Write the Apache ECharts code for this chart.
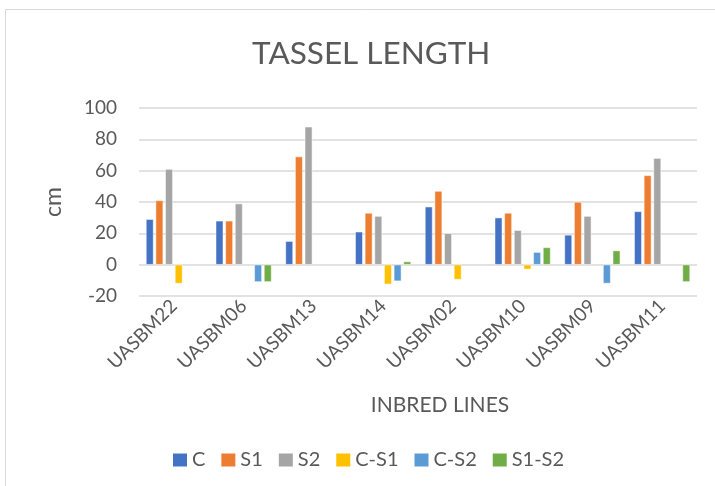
<!DOCTYPE html>
<html>
<head>
<meta charset="utf-8">
<script src="https://cdn.jsdelivr.net/npm/echarts@6/dist/echarts.min.js"></script>
<style>
  html, body { margin: 0; padding: 0; background: #fff; }
  #chart { width: 715px; height: 486px; }
</style>
</head>
<body>
<div id="chart"></div>
<script>
// Inbred lines and tassel length measurements (cm)
const lines = ['UASBM22', 'UASBM06', 'UASBM13', 'UASBM14', 'UASBM02', 'UASBM10', 'UASBM09', 'UASBM11'];
const seriesNames = ['C', 'S1', 'S2', 'C-S1', 'C-S2', 'S1-S2'];
const valC    = [29, 28, 15, 21, 37, 30, 19, 34];
const valS1   = [41, 28, 69, 33, 47, 33, 40, 57];
const valS2   = [61, 39, 88, 31, 20, 22, 31, 68];
const valCS1  = [-12, null, null, -12.5, -9.5, -3, null, null];
const valCS2  = [null, -11, null, -10.5, null, 8, -12, null];
const valS1S2 = [null, -11, null, 2, null, 11, 9, -11];
const yTicks = { min: -20, max: 100, step: 20 };

const colors = ['#4472C4', '#ED7D31', '#A5A5A5', '#FFC000', '#5B9BD5', '#70AD47'];
const allValues = [valC, valS1, valS2, valCS1, valCS2, valS1S2];
const textColor = '#595959';
const fontFamily = 'Lato, "Open Sans", sans-serif';

const chart = echarts.init(document.getElementById('chart'));
chart.setOption({
  animation: false,
  textStyle: { fontFamily: fontFamily },
  graphic: [
    {
      type: 'rect',
      shape: { x: 5.5, y: 9.5, width: 720, height: 490 },
      style: { fill: 'none', stroke: '#d9d9d9', lineWidth: 1 },
      silent: true
    },
    {
      // horizontal axis title
      type: 'text',
      x: 440,
      y: 405,
      style: {
        text: 'INBRED LINES',
        fontFamily: fontFamily,
        fontSize: 21,
        fill: textColor,
        align: 'center',
        verticalAlign: 'middle'
      },
      silent: true
    }
  ],
  title: {
    text: 'TASSEL LENGTH',
    left: 247,
    top: 33,
    textStyle: { fontFamily: fontFamily, fontSize: 31.5, fontWeight: 'normal', color: textColor }
  },
  legend: {
    top: 445,
    left: 168,
    itemWidth: 14,
    itemHeight: 13,
    itemGap: 16,
    icon: 'rect',
    data: seriesNames,
    itemStyle: { borderWidth: 0 },
    textStyle: { fontFamily: fontFamily, fontSize: 20, color: textColor }
  },
  grid: { left: 139, right: 18, top: 108, bottom: 190 },
  xAxis: {
    type: 'category',
    data: lines,
    axisLine: { show: false },
    axisTick: { show: false },
    axisLabel: { rotate: 45, margin: 7, fontSize: 19, color: textColor, fontFamily: fontFamily }
  },
  yAxis: {
    type: 'value',
    min: yTicks.min,
    max: yTicks.max,
    interval: yTicks.step,
    name: 'cm',
    nameLocation: 'middle',
    nameGap: 74,
    nameTextStyle: { fontFamily: fontFamily, fontSize: 23, color: textColor },
    axisLine: { show: false },
    axisTick: { show: false },
    axisLabel: { fontSize: 19, color: textColor, margin: 22, fontFamily: fontFamily },
    splitLine: { lineStyle: { color: '#d9d9d9', width: 1.5 } }
  },
  series: seriesNames.map((name, i) => ({
    name: name,
    type: 'bar',
    data: allValues[i],
    barGap: '28%',
    barCategoryGap: '20%',
    itemStyle: { color: colors[i], borderColor: '#ffffff', borderWidth: 0.5 }
  }))
});
</script>
</body>
</html>
